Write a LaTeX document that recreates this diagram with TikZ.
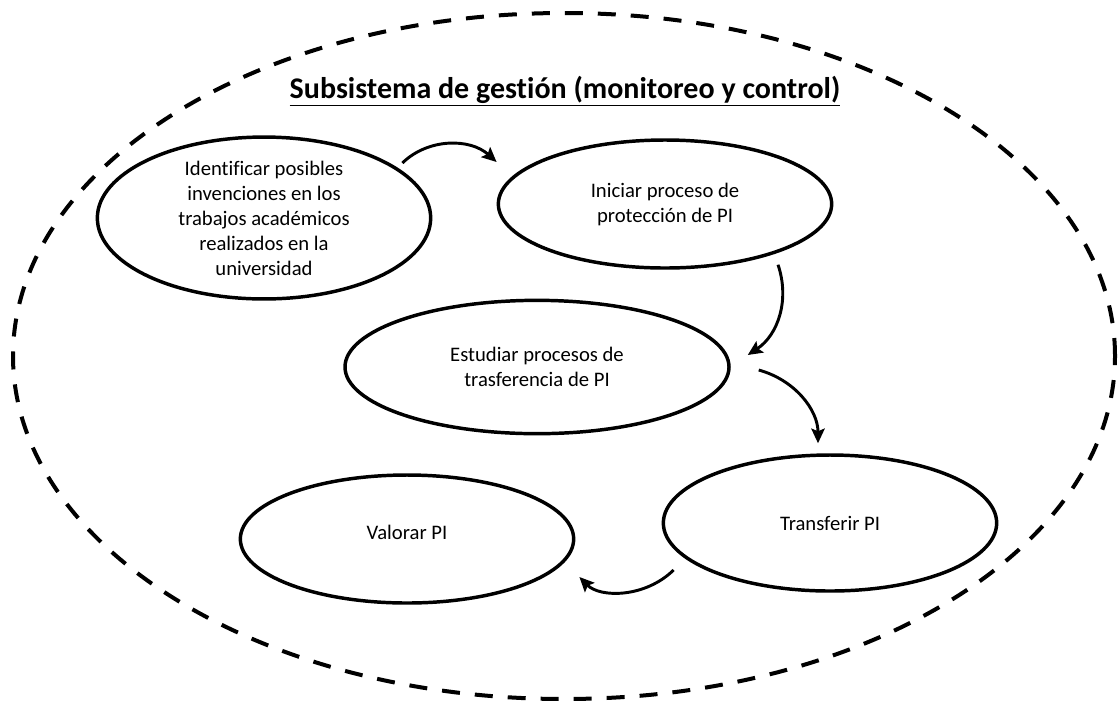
\documentclass[tikz,border=0pt]{standalone}
\usepackage{fontspec}
\setmainfont{Carlito}[RawFeature={-liga;-clig;-calt;-dlig}]
\usepackage{tikz}
\usetikzlibrary{calc, shapes.geometric, arrows.meta}

\begin{document}
\begin{tikzpicture}[
    x=0.75pt, y=-0.75pt,
    % Estilos
    proceso/.style={ellipse, draw=black, line width=2.6pt, inner sep=0pt, minimum width=250pt, minimum height=100pt, align=center, font=\fontsize{15.5}{18.75}\selectfont},
    borde/.style={draw=black, line width=3pt, dash pattern=on 13.5pt off 11.25pt},
    flecha/.style={draw=black, line width=2.2pt, -{Stealth[length=11pt, width=10pt, inset=2pt]}}
]
\useasboundingbox (0,0) rectangle (1119,701);

% ==========================
% BORDE DEL SUBSISTEMA
% ==========================
\draw[borde] (564,356) ellipse [x radius=413.25pt, y radius=257.25pt];
\node[font=\fontsize{22.5}{26}\selectfont\bfseries] (titulo) at (565,91) {\underline{Subsistema de gestión (monitoreo y control)}};

% ==========================
% PROCESOS
% ==========================
\node[proceso] (idf) at (264,218) {Identificar posibles\\ invenciones en los\\ trabajos académicos\\ realizados en la\\ universidad};
\node[proceso, minimum height=96pt] (ini) at (665,204) {Iniciar proceso de\\ protección de PI};
\node[proceso, minimum width=288pt] (est) at (537,367) {Estudiar procesos de\\ trasferencia de PI};
\node[proceso, minimum height=102pt] (trf) at (830,523) {Transferir PI};
\node[proceso, minimum height=96pt] (val) at (407,539) {Valorar PI\\[-0.6em]};

% ==========================
% FLECHAS
% ==========================
\draw[flecha] ($(idf.east)+(-30,-55)$) .. controls (428,138) and (470,138) .. ($(ini.west)+(0,-42)$);
\draw[flecha] ($(ini.south)+(113,-5)$) .. controls (790,300) and (778,335) .. ($(est.east)+(17,-12)$);
\draw[flecha] ($(est.east)+(28,3)$) .. controls (795,380) and (818,410) .. ($(trf.north)+(-12,-10)$);
\draw[flecha] ($(trf.west)+(12,47)$) .. controls (645,598) and (600,598) .. ($(val.east)+(4,38)$);

\end{tikzpicture}
\end{document}
